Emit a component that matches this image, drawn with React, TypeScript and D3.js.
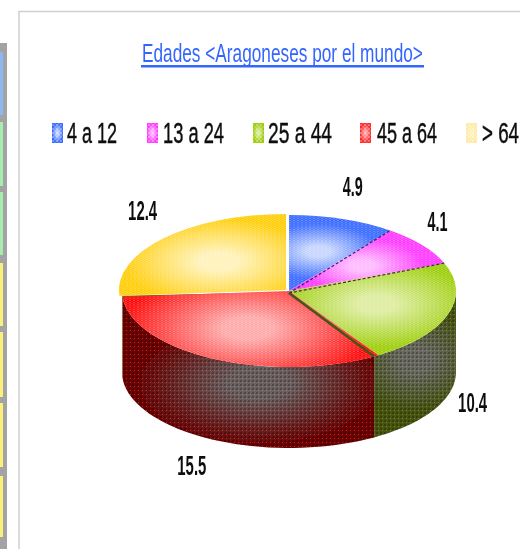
import React from 'react';
import * as d3 from 'd3';

const title = 'Edades <Aragoneses por el mundo>';
const categories = ['4 a 12', '13 a 24', '25 a 44', '45 a 64', '> 64'];
const values = [4.9, 4.1, 10.4, 15.5, 12.4];
const rimColors = ['#3366ff', '#ff33ff', '#99cc00', '#ff0000', '#ffcc00'];
const lightColors = ['#c4d4ff', '#ffb8ff', '#dcec9c', '#ffa6a6', '#fff2b8'];
const keyRims = ['#3366ff', '#ff33ff', '#99cc00', '#ff2222', '#ffe9a8'];
const wallColors = ['#333', '#333', '#465510', '#6e0000', '#5c5c10'];
const wallLights = ['#444', '#444', '#6a6a60', '#6c6060', '#5c5c10'];
const legendSwatchX = [52, 147, 253, 360, 466];
const legendTextX = [67, 163, 268, 377, 482];
const legendTextW = [50, 61, 64, 60, 37];
const labelShiftX = [3, -3, 3, -12, -7];
const labelShiftY = [1, -2, -5, -7, -5];
const stripCells = [
  { color: '#8db8f5', from: 52, to: 115 },
  { color: '#a6eeb0', from: 122, to: 186 },
  { color: '#a6eeb0', from: 192, to: 255 },
  { color: '#fbf07c', from: 263, to: 326 },
  { color: '#fbf07c', from: 332, to: 397 },
  { color: '#fbf07c', from: 403, to: 467 },
  { color: '#fbf07c', from: 476, to: 537 },
];

const width = 520;
const height = 549;
const cx = 289;
const cy = 291;
const rx = 167;
const ry = 76;
const depth = 81;
const labelRx = 190;
const labelRy = 112;
const seamShift = 0.03; // wall seam sits a little left of the top seam
const font = 'Liberation Sans';

const slices = d3.pie<number>().sort(null)(values);
const arc = d3.arc<d3.PieArcDatum<number>>().innerRadius(0).outerRadius(rx);

// last slice is pulled away from the others
const nudge = (i: number) => (i === 4 ? { x: -3, y: -1 } : { x: 0, y: 0 });

const rimX = (a: number) => cx + rx * Math.sin(a);
const rimY = (a: number) => cy - ry * Math.cos(a);

const wallPath = (a0: number, a1: number) => {
  const start = Math.max(a0, Math.PI / 2);
  const end = Math.min(a1, (3 * Math.PI) / 2);
  if (end <= start) return null;
  const angle = d3.scaleLinear().domain([0, 40]).range([start, end]);
  const rim = d3.range(41).map((k) => angle(k));
  const pts: [number, number][] = [
    ...rim.map((a): [number, number] => [rimX(a), rimY(a)]),
    ...rim.reverse().map((a): [number, number] => [rimX(a), rimY(a) + depth]),
  ];
  return d3.line()(pts) + 'Z';
};

// the source text is squeezed sideways, so scale it to the width it has there
const ctx = document.createElement('canvas').getContext('2d') as CanvasRenderingContext2D;
const squeeze = (text: string, size: number, weight: string, target: number) => {
  ctx.font = `${weight} ${size}px "${font}"`;
  return target / ctx.measureText(text).width;
};

export default function App() {
  return (
    <svg
      width={width}
      height={height}
      viewBox={`0 0 ${width} ${height}`}
      style={{ position: 'absolute', left: 0, top: 0, background: '#fff' }}
    >
      <defs>
        <filter id="soft" x="-5%" y="-5%" width="110%" height="110%">
          <feGaussianBlur stdDeviation="0.5" />
        </filter>
        <pattern id="dots" width="4" height="4" patternUnits="userSpaceOnUse">
          <rect x="0" y="0" width="2" height="2" fill="#fff" opacity="0.3" />
          <rect x="2" y="2" width="2" height="2" fill="#fff" opacity="0.18" />
        </pattern>
        <pattern id="wallDots" width="4" height="4" patternUnits="userSpaceOnUse">
          <rect x="0" y="0" width="2" height="2" fill="#000" opacity="0.25" />
          <rect x="2" y="2" width="1" height="1" fill="#fff" opacity="0.22" />
        </pattern>
        {slices.map((d, i) => {
          const mid = (d.startAngle + d.endAngle) / 2;
          return (
            <radialGradient
              key={i}
              id={`top${i}`}
              gradientUnits="userSpaceOnUse"
              cx={0.55 * rx * Math.sin(mid)}
              cy={-0.55 * rx * Math.cos(mid)}
              r={i === 3 ? 125 : i === 0 || i === 1 ? 60 : 95}
            >
              <stop offset="0.2" stopColor={lightColors[i]} />
              <stop offset="1" stopColor={rimColors[i]} />
            </radialGradient>
          );
        })}
        {categories.map((c, i) => (
          <radialGradient key={c} id={`key${i}`}>
            <stop offset="0.2" stopColor={lightColors[i]} />
            <stop offset="1" stopColor={keyRims[i]} />
          </radialGradient>
        ))}
        {slices.map((d, i) => {
          const mid = (Math.max(d.startAngle, Math.PI / 2) + Math.min(d.endAngle, (3 * Math.PI) / 2)) / 2;
          const wy = rimY(mid) + depth * (i === 3 ? 0.3 : 0.4);
          const squash = i === 3 ? 0.5 : 0.8;
          return (
            <radialGradient
              key={i}
              id={`wall${i}`}
              gradientUnits="userSpaceOnUse"
              cx={rimX(mid) + (i === 3 ? 45 : -20)}
              cy={wy}
              r={i === 3 ? 125 : 65}
              gradientTransform={`translate(0 ${wy}) scale(1 ${squash}) translate(0 ${-wy})`}
            >
              <stop offset="0.25" stopColor={wallLights[i]} />
              <stop offset="1" stopColor={wallColors[i]} />
            </radialGradient>
          );
        })}
      </defs>

      {/* bit of the page table left of the chart */}
      <g filter="url(#soft)">
        <rect x={0} y={43} width={7} height={height - 43} fill="#a3a3a3" />
        {stripCells.map((c) => (
          <rect key={c.from} x={0} y={c.from} width={3} height={c.to - c.from} fill={c.color} />
        ))}
        <path d={`M19 ${height}V11.5H${width}`} fill="none" stroke="#cfcfcf" strokeWidth={1.5} />
      </g>

      <g filter="url(#soft)">
        <text
          transform={`translate(142 62) scale(${squeeze(title, 25, 'normal', 281)} 1)`}
          fontFamily={font}
          fontSize={25}
          fill="#3366ff"
        >
          {title}
        </text>
        <rect x={141} y={65} width={283} height={2.5} fill="#3366ff" />

        {categories.map((c, i) => (
          <g key={c}>
            <rect x={legendSwatchX[i]} y={123} width={11} height={20} fill={`url(#key${i})`} />
            <rect x={legendSwatchX[i]} y={123} width={11} height={20} fill="url(#dots)" />
            <text
              transform={`translate(${legendTextX[i]} 143) scale(${squeeze(c, 29, 'normal', legendTextW[i])} 1)`}
              fontFamily={font}
              fontSize={29}
              fill="#111"
              stroke="#111"
              strokeWidth={0.5}
            >
              {c}
            </text>
          </g>
        ))}

        {/* side walls first, front of the pie */}
        {slices.map((d, i) => {
          const p = wallPath(
            d.startAngle + (i === 3 ? seamShift : 0),
            d.endAngle + (i === 2 ? seamShift : 0)
          );
          if (!p) return null;
          return (
            <g key={i}>
              <path d={p} fill={`url(#wall${i})`} />
              <path d={p} fill="url(#wallDots)" />
            </g>
          );
        })}

        {/* olive cut edge under the pulled out slice */}
        <path
          d={`M${rimX(slices[4].startAngle)} ${rimY(slices[4].startAngle) + 1}L${cx} ${cy + 3}`}
          stroke="#6b6b14"
          strokeWidth={4}
        />

        {slices.map((d, i) => {
          const n = nudge(i);
          const a = arc(d) as string;
          return (
            <g key={i} transform={`translate(${cx + n.x} ${cy + n.y}) scale(1 ${ry / rx})`}>
              <path d={a} fill={`url(#top${i})`} />
              <path d={a} fill="url(#dots)" />
            </g>
          );
        })}

        {/* seams between the slices */}
        <path
          d={`M${cx} ${cy + 2}L${rimX(slices[0].endAngle)} ${rimY(slices[0].endAngle)}`}
          stroke="#2a2a66"
          strokeWidth={1.2}
          strokeDasharray="3 2"
        />
        <path
          d={`M${cx} ${cy + 2}L${rimX(slices[1].endAngle)} ${rimY(slices[1].endAngle)}`}
          stroke="#552255"
          strokeWidth={1.2}
          strokeDasharray="3 2"
        />
        <path
          d={`M${cx} ${cy + 2}L${rimX(slices[2].endAngle + seamShift)} ${rimY(slices[2].endAngle + seamShift)}`}
          stroke="#46551a"
          strokeWidth={2.5}
        />

        {slices.map((d, i) => {
          const mid = (d.startAngle + d.endAngle) / 2;
          const front = Math.cos(mid) < 0;
          const label = String(values[i]);
          const x = cx + labelRx * Math.sin(mid) + labelShiftX[i];
          const y = cy - labelRy * Math.cos(mid) + (front ? depth : 0) + labelShiftY[i];
          return (
            <text
              key={i}
              transform={`translate(${x} ${y + 10}) scale(${squeeze(label, 27, 'bold', label.length > 3 ? 29 : 20)} 1)`}
              textAnchor="middle"
              fontFamily={font}
              fontWeight="bold"
              fontSize={27}
              fill="#111"
            >
              {label}
            </text>
          );
        })}
      </g>
    </svg>
  );
}
